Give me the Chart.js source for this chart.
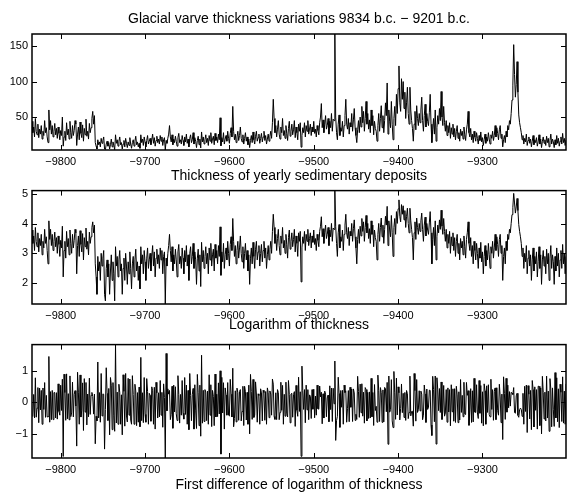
<!DOCTYPE html>
<html><head><meta charset="utf-8">
<script src="https://cdn.jsdelivr.net/npm/chart.js@4/dist/chart.umd.min.js"></script>
<style>
html,body{margin:0;padding:0;background:#fff;}
body{width:567px;height:493px;position:relative;overflow:hidden;}
canvas{position:absolute;left:0;}
</style></head><body>
<canvas id="c1" width="567" height="185" style="top:0px"></canvas>
<canvas id="c2" width="567" height="154" style="top:180px"></canvas>
<canvas id="c3" width="567" height="160" style="top:334px"></canvas>
<script>
const firstYear = -9834;
const thickness = [
44,28,36,22,48,30,25,40,21,33,
26,38,19,30,24,45,28,35,22,14,
60,32,45,26,38,22,30,41,25,34,
20,36,27,18,31,24,50,9,22,30,
17,42,25,33,19,44,28,20,38,24,
31,45,40,10,26,36,18,43,27,21,
39,16,34,25,47,23,30,19,41,28,
35,48,58,40,52,14,9,5,18,11,
15,8,20,13,17,22,5,4,12,16,
9,14,5,11,19,8,15,10,4,25,
13,18,9,16,22,11,14,5,12,17,
8,20,13,7,15,10,21,12,6,14,
18,9,16,23,11,15,8,13,6,25,
14,19,10,22,15,8,17,24,12,16,
20,11,18,26,13,21,9,17,23,14,
19,12,24,16,22,10,18,21,3.6,17,
13,20,26,38,22,15,25,11,19,14,
23,16,9,21,27,14,18,12,24,17,
10,22,15,26,13,19,8,20,25,14,
18,28,12,21,16,7,17,23,11,19,
6.5,29,15,22,12,18,25,14,20,10,
24,16,28,13,19,23,11,27,17,22,
14,26,18,49,9.5,21,15,28,12,19,
24,16,30,20,13,27,35,22,65,30,
18,26,14,22,30,17,24,36,20,15,
25,12,20,28,16,22,11,19,7,17,
24,14,29,18,12,23,30,16,21,26,
13,20,27,15,22,30,17,24,12,19,
26,16,23,30,20,42,75,48,28,38,
22,33,45,26,19,36,28,48,24,31,
20,38,27,17,34,44,23,30,40,25,
32,45,21,36,28,18,40,30,42,7.6,
24,35,28,42,22,38,30,45,26,33,
40,24,36,29,44,27,33,22,38,31,
25,42,50,69,35,46,28,40,52,33,
38,48,26,44,35,55,30,47,45,167,
50,28,18,40,53,24,35,30,44,22,
38,52,75,40,33,48,26,42,36,55,
30,46,62,35,24,14,32,45,28,50,
36,65,42,58,30,48,72,40,55,33,
46,28,60,38,52,25,44,34,30,16,
38,55,30,48,66,35,52,28,45,70,
52,98,26,60,44,35,72,40,18,48,
65,38,82,55,90,122,70,58,104,75,
100,62,85,48,70,92,55,40,92,60,
45,34,16,40,58,32,66,48,38,55,
42,60,78,45,30,52,68,36,55,44,
38,56,82,40,14,32,48,26,60,16,
35,52,40,62,45,86,50,38,65,42,
30,45,24,38,28,42,20,35,26,40,
22,34,18,30,38,20,28,16,33,24,
30,19,36,25,17,32,40,58,28,22,
34,18,26,14,30,22,16,28,20,12,
24,17,29,15,21,10,18,26,13,22,
16,28,19,12,25,20,30,17,24,38,
22,35,27,18,32,38,20,26,8,18,
24,14,30,22,38,32,45,40,55,74,
95,152,110,78,96,128,85,53,42,35,
28,18,24,12,20,15,26,10,17,22,
13,19,8,16,24,11,18,14,21,9,
15,25,12,19,7,16,22,13,18,10,
23,14,20,8,17,26,12,19,15,7,
18,11,24,13,20,9,16,22,12,27,
14,20,10,18
];
const years = thickness.map((_, i) => firstYear + i);
const logThickness = thickness.map(v => Math.log(v));
const diffLog = logThickness.slice(1).map((v, i) => v - logThickness[i]);
const diffYears = years.slice(1);

const xTicks = [-9800, -9700, -9600, -9500, -9400, -9300];
const yTicksThick = [50, 100, 150];
const yTicksLog = [2, 3, 4, 5];
const yTicksDiff = [-1, 0, 1];

const mainTitle = 'Glacial varve thickness variations 9834 b.c. \u2212 9201 b.c.';
const xTitles = ['Thickness of yearly sedimentary deposits', 'Logarithm of thickness', 'First difference of logarithm of thickness'];

const FAMILY = '"Liberation Sans", Arial, Helvetica, sans-serif';
const fmt = v => String(v).replace('-', '\u2212');

const frame = {
  id: 'frame',
  afterDatasetsDraw(chart) {
    const { ctx, chartArea: a, scales: { x, y } } = chart;
    ctx.save();
    ctx.strokeStyle = '#000';
    ctx.lineWidth = 1;
    ctx.beginPath();
    x.ticks.forEach(t => {
      const px = Math.round(x.getPixelForValue(t.value)) + 0.5;
      ctx.moveTo(px, a.bottom); ctx.lineTo(px, a.bottom - 5);
      ctx.moveTo(px, a.top); ctx.lineTo(px, a.top + 5);
    });
    y.ticks.forEach(t => {
      const py = Math.round(y.getPixelForValue(t.value)) + 0.5;
      ctx.moveTo(a.left, py); ctx.lineTo(a.left + 5, py);
      ctx.moveTo(a.right, py); ctx.lineTo(a.right - 5, py);
    });
    ctx.stroke();
    ctx.lineWidth = 1.5;
    ctx.strokeRect(a.left, a.top, a.right - a.left, a.bottom - a.top);
    ctx.restore();
  }
};

function panel(id, xs, ys, yTicks, xTitle, xH, padTop, withTitle) {
  const yMin = Math.min(...ys), yMax = Math.max(...ys);
  return new Chart(document.getElementById(id), {
    type: 'line',
    data: { datasets: [{ data: xs.map((x, i) => ({ x, y: ys[i] })), borderColor: '#000', borderWidth: 1, pointRadius: 0, tension: 0, fill: false }] },
    options: {
      responsive: false, animation: false, devicePixelRatio: 1,
      layout: { padding: { top: padTop, right: 1, left: 0, bottom: 0 } },
      plugins: {
        legend: { display: false }, tooltip: { enabled: false },
        title: { display: withTitle, text: mainTitle, fullSize: false, color: '#000', font: { family: FAMILY, size: 14, weight: 'normal' }, padding: { top: 11, bottom: 6.2 } }
      },
      scales: {
        x: {
          type: 'linear', min: firstYear, max: firstYear + thickness.length - 1,
          afterBuildTicks: s => { s.ticks = xTicks.map(v => ({ value: v })); },
          afterFit: s => { s.height = xH; },
          grid: { display: false, drawTicks: false }, border: { display: false },
          ticks: { padding: 5, color: '#000', font: { family: FAMILY, size: 11 }, maxRotation: 0, autoSkip: false, callback: v => fmt(v) },
          title: { display: true, text: xTitle, color: '#000', font: { family: FAMILY, size: 14 }, padding: 0 }
        },
        y: {
          min: yMin, max: yMax,
          afterBuildTicks: s => { s.ticks = yTicks.map(v => ({ value: v })); },
          afterFit: s => { s.width = 32; },
          grid: { display: false, drawTicks: false }, border: { display: false },
          ticks: { padding: 4, color: '#000', font: { family: FAMILY, size: 11 }, autoSkip: false, callback: v => fmt(v) }
        }
      }
    },
    plugins: [frame]
  });
}

panel('c1', years, thickness, yTicksThick, xTitles[0], 35, 0, true);
panel('c2', years, logThickness, yTicksLog, xTitles[1], 30, 8, false);
panel('c3', diffYears, diffLog, yTicksDiff, xTitles[2], 36, 8, false);
</script>
</body></html>
